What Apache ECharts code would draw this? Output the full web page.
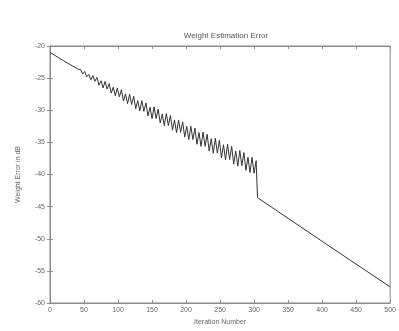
<!DOCTYPE html>
<html>
<head>
<meta charset="utf-8">
<script src="https://cdn.jsdelivr.net/npm/echarts@6/dist/echarts.min.js"></script>
<style>
html, body { margin: 0; padding: 0; background: #fff; }
#chart { width: 399px; height: 331px; }
</style>
</head>
<body>
<div id="chart"></div>
<script>
// [iteration, error in dB]
var startPart = [[0, -21.0], [20, -22.3], [42, -23.65]];
var zigPart = [
	[45, -23.63], [48, -24.37], [51, -23.96], [54, -24.8], [57, -24.43], [60, -25.27],
	[63, -24.61], [66, -25.49], [69, -24.88], [72, -26.11], [75, -25.4], [78, -26.54],
	[81, -25.52], [84, -26.71], [87, -25.84], [90, -27.33], [93, -26.42], [96, -27.75],
	[99, -26.54], [102, -27.92], [105, -26.8], [108, -28.58], [111, -27.46], [114, -28.99],
	[117, -27.52], [120, -29.1], [123, -27.83], [126, -29.76], [129, -28.49], [132, -30.12],
	[135, -28.5], [138, -30.18], [141, -28.86], [144, -30.89], [147, -29.52], [150, -31.3],
	[153, -29.47], [156, -31.3], [159, -29.82], [162, -31.99], [165, -30.57], [168, -32.39],
	[171, -30.52], [174, -32.39], [177, -30.82], [180, -33.09], [183, -31.51], [186, -33.49],
	[189, -31.51], [192, -33.44], [195, -31.81], [198, -34.18], [201, -32.51], [204, -34.57],
	[207, -32.49], [210, -34.56], [213, -32.78], [216, -35.3], [219, -33.46], [222, -35.63],
	[225, -33.4], [228, -35.62], [231, -33.74], [234, -36.35], [237, -34.42], [240, -36.69],
	[243, -34.36], [246, -36.68], [249, -34.69], [252, -37.41], [255, -35.37], [258, -37.73],
	[261, -35.29], [264, -37.66], [267, -35.62], [270, -38.38], [273, -36.34], [276, -38.7],
	[279, -36.27], [282, -38.63], [285, -36.59], [288, -39.35], [291, -37.31], [294, -39.68],
	[297, -37.34], [300, -39.8], [303, -37.85]
];
var endPart = [[305, -37.8], [305, -43.6], [400, -50.4], [500, -57.5]];
var xTicks = [0, 50, 100, 150, 200, 250, 300, 350, 400, 450, 500];
var yTicks = [-20, -25, -30, -35, -40, -45, -50, -55, -60];

var curve = startPart.concat(zigPart, endPart);

var chart = echarts.init(document.getElementById('chart'));
var font = 'Liberation Sans';
var txt = '#666';
var axisCol = '#8a8a8a';
var option = {
	animation: false,
	title: {
		text: 'Weight Estimation Error',
		left: 221,
		textAlign: 'center',
		top: 27,
		textStyle: { fontFamily: font, fontSize: 8, fontWeight: 'normal', color: '#555' }
	},
	grid: { left: 50, right: 7, top: 46, bottom: 24, show: true, borderColor: axisCol, borderWidth: 1 },
	xAxis: [{
		type: 'value',
		min: xTicks[0], max: xTicks[xTicks.length - 1], interval: 50,
		name: 'Iteration Number',
		nameLocation: 'middle',
		nameGap: 16,
		nameTextStyle: { fontFamily: font, fontSize: 7, color: txt },
		axisLine: { lineStyle: { color: axisCol } },
		axisTick: { inside: true, length: 3, lineStyle: { color: axisCol } },
		axisLabel: { fontFamily: font, fontSize: 7, color: txt, margin: 4, showMaxLabel: true },
		splitLine: { show: false }
	}, {
		type: 'value', position: 'top',
		min: xTicks[0], max: xTicks[xTicks.length - 1], interval: 50,
		axisLine: { lineStyle: { color: axisCol } },
		axisTick: { inside: true, length: 3, lineStyle: { color: axisCol } },
		axisLabel: { show: false },
		splitLine: { show: false }
	}],
	yAxis: [{
		type: 'value',
		min: yTicks[yTicks.length - 1], max: yTicks[0], interval: 5,
		name: 'Weight Error in dB',
		nameLocation: 'middle',
		nameGap: 28,
		nameTextStyle: { fontFamily: font, fontSize: 7, color: txt },
		axisLine: { lineStyle: { color: axisCol } },
		axisTick: { inside: true, length: 3, lineStyle: { color: axisCol } },
		axisLabel: { fontFamily: font, fontSize: 7, color: txt, margin: 5 },
		splitLine: { show: false }
	}, {
		type: 'value', position: 'right',
		min: yTicks[yTicks.length - 1], max: yTicks[0], interval: 5,
		axisLine: { lineStyle: { color: axisCol } },
		axisTick: { inside: true, length: 3, lineStyle: { color: axisCol } },
		axisLabel: { show: false },
		splitLine: { show: false }
	}],
	series: [{
		type: 'line',
		data: curve,
		showSymbol: false,
		lineStyle: { color: '#333', width: 1 }
	}]
};
chart.setOption(option);
</script>
</body>
</html>
